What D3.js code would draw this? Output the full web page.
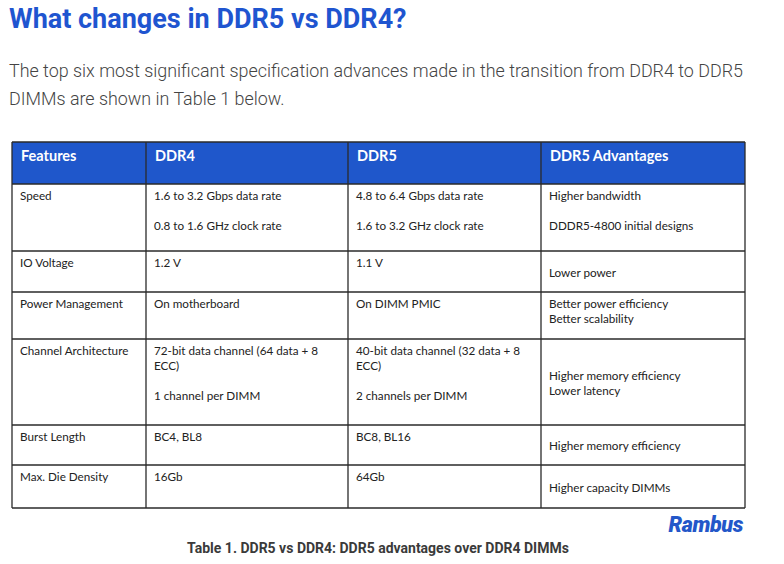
<!DOCTYPE html>
<html>
<head>
<meta charset="utf-8">
<script src="https://cdn.jsdelivr.net/npm/d3@7"></script>
<style>
  body { margin: 0; background: #fff; }
</style>
</head>
<body>
<div id="table-chart"></div>
<script>
// table content
var headers = ["Features", "DDR4", "DDR5", "DDR5 Advantages"];
var features = ["Speed", "IO Voltage", "Power Management", "Channel Architecture", "Burst Length", "Max. Die Density"];
var ddr4 = [
    ["1.6 to 3.2 Gbps data rate", "", "0.8 to 1.6 GHz clock rate"],
    ["1.2 V"],
    ["On motherboard"],
    ["72-bit data channel (64 data + 8", "ECC)", "", "1 channel per DIMM"],
    ["BC4, BL8"],
    ["16Gb"]
];
var ddr5 = [
    ["4.8 to 6.4 Gbps data rate", "", "1.6 to 3.2 GHz clock rate"],
    ["1.1 V"],
    ["On DIMM PMIC"],
    ["40-bit data channel (32 data + 8", "ECC)", "", "2 channels per DIMM"],
    ["BC8, BL16"],
    ["64Gb"]
];
var advantages = [
    ["Higher bandwidth", "", "DDDR5-4800 initial designs"],
    ["Lower power"],
    ["Better power efficiency", "Better scalability"],
    ["Higher memory efficiency", "Lower latency"],
    ["Higher memory efficiency"],
    ["Higher capacity DIMMs"]
];

var title = "What changes in DDR5 vs DDR4?";
var intro = ["The top six most significant specification advances made in the transition from DDR4 to DDR5",
             "DIMMs are shown in Table 1 below."];
var caption = "Table 1. DDR5 vs DDR4: DDR5 advantages over DDR4 DIMMs";

// layout
var width = 784, height = 564;
var colEdges = [12, 146, 348, 541, 745];
var headerTop = 142, headerH = 42;
var rowHeights = [67, 41, 47, 86, 40, 43];
var advAlign = ["top", "middle", "top", "middle", "middle", "middle"];
var lineH = 15;

var svg = d3.select("#table-chart").append("svg")
    .attr("width", width)
    .attr("height", height);

svg.append("text")
    .attr("x", 9)
    .attr("y", 28)
    .attr("font-family", "Roboto")
    .attr("font-weight", 700)
    .attr("font-size", 27)
    .attr("fill", "#1f55d0")
    .text(title);

svg.selectAll(".intro")
    .data(intro)
    .enter().append("text")
    .attr("class", "intro")
    .attr("x", 9)
    .attr("y", function(d, i) { return 77 + i * 28; })
    .attr("font-family", "Roboto")
    .attr("font-weight", 300)
    .attr("font-size", 17.9)
    .attr("fill", "#444")
    .text(function(d) { return d; });

// row tops
var rowTops = [];
var acc = headerTop + headerH;
rowHeights.forEach(function(h) { rowTops.push(acc); acc += h; });
var tableBottom = acc;

var x = d3.scaleOrdinal().domain(headers).range(colEdges.slice(0, 4));

// header band
svg.append("rect")
    .attr("x", colEdges[0])
    .attr("y", headerTop)
    .attr("width", colEdges[4] - colEdges[0])
    .attr("height", headerH)
    .attr("fill", "#1f57cb");

svg.selectAll(".head")
    .data(headers)
    .enter().append("text")
    .attr("class", "head")
    .attr("x", function(d) { return x(d) + 9; })
    .attr("y", headerTop + 19)
    .attr("font-family", "Lato")
    .attr("font-weight", 700)
    .attr("font-size", 14.5)
    .attr("fill", "#fff")
    .text(function(d) { return d; });

// body cells
var columns = [features.map(function(d) { return [d]; }), ddr4, ddr5, advantages];
var cells = [];
features.forEach(function(f, r) {
    columns.forEach(function(col, c) {
        var lines = col[r];
        var top = rowTops[r] + 16;
        if (c === 3 && advAlign[r] === "middle") {
            top = rowTops[r] + rowHeights[r] / 2 - (lines.length - 1) * lineH / 2 + 5;
        }
        lines.forEach(function(l, k) {
            if (l) cells.push({ text: l, x: colEdges[c] + 8, y: top + k * lineH });
        });
    });
});

svg.selectAll(".cell")
    .data(cells)
    .enter().append("text")
    .attr("class", "cell")
    .attr("x", function(d) { return d.x; })
    .attr("y", function(d) { return d.y; })
    .attr("font-family", "Lato")
    .attr("font-size", 11.7)
    .attr("fill", "#222")
    .text(function(d) { return d.text; });

// grid lines
var hLines = [headerTop].concat(rowTops, [tableBottom]);
svg.selectAll(".hline")
    .data(hLines)
    .enter().append("line")
    .attr("class", "hline")
    .attr("x1", colEdges[0])
    .attr("x2", colEdges[4])
    .attr("y1", function(d) { return d; })
    .attr("y2", function(d) { return d; })
    .style("stroke", "#2a2a2a")
    .style("stroke-width", 1.3);

svg.selectAll(".vline")
    .data(colEdges)
    .enter().append("line")
    .attr("class", "vline")
    .attr("x1", function(d) { return d; })
    .attr("x2", function(d) { return d; })
    .attr("y1", headerTop)
    .attr("y2", tableBottom)
    .style("stroke", "#2a2a2a")
    .style("stroke-width", 1.3);

// logo
svg.append("text")
    .attr("x", 743)
    .attr("y", 532)
    .attr("text-anchor", "end")
    .attr("font-family", "Roboto")
    .attr("font-weight", 900)
    .attr("font-style", "italic")
    .attr("font-size", 21.5)
    .attr("letter-spacing", -0.4)
    .attr("fill", "#2357c9")
    .text("Rambus");

svg.append("text")
    .attr("x", 378)
    .attr("y", 553)
    .attr("text-anchor", "middle")
    .attr("font-family", "Roboto")
    .attr("font-weight", 700)
    .attr("font-size", 14)
    .attr("fill", "#3a3a3a")
    .text(caption);
</script>
</body>
</html>
